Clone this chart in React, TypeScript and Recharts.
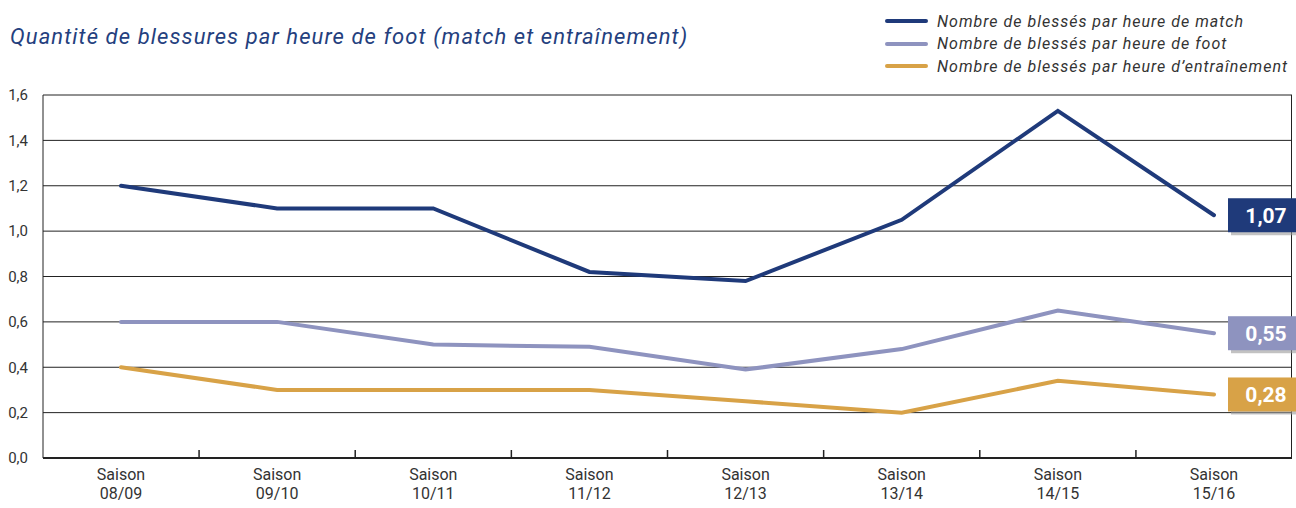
import { LineChart, Line, XAxis, YAxis, CartesianGrid, LabelList } from 'recharts';

const seasons = ['08/09', '09/10', '10/11', '11/12', '12/13', '13/14', '14/15', '15/16'];
const matchValues = [1.2, 1.1, 1.1, 0.82, 0.78, 1.05, 1.53, 1.07];
const footValues = [0.6, 0.6, 0.5, 0.49, 0.39, 0.48, 0.65, 0.55];
const trainingValues = [0.4, 0.3, 0.3, 0.3, 0.25, 0.2, 0.34, 0.28];
const yTicks = [0, 0.2, 0.4, 0.6, 0.8, 1.0, 1.2, 1.4, 1.6];

const series = [
  { key: 'match', name: 'Nombre de blessés par heure de match', color: '#1f3a7a' },
  { key: 'foot', name: 'Nombre de blessés par heure de foot', color: '#8e93bf' },
  { key: 'training', name: 'Nombre de blessés par heure d\u2019entraînement', color: '#d8a247' },
];

const data = seasons.map((s, i) => ({
  season: s,
  match: matchValues[i],
  foot: footValues[i],
  training: trainingValues[i],
}));

const FONT = 'Roboto, "DejaVu Sans", sans-serif';
const X_PAD = 78;
const fmt = (v: number) => v.toFixed(1).replace('.', ',');

function SeasonTick({ x, y, payload }: any) {
  return (
    <text x={x} y={y} textAnchor="middle" fill="#333" fontSize={16} fontFamily={FONT}>
      <tspan x={x} dy={14}>Saison</tspan>
      <tspan x={x} dy={19}>{payload.value}</tspan>
    </text>
  );
}

// boundaries between seasons: halfway between two category points
function separatorCoords({ xAxis, offset }: any) {
  let pts: number[] = [];
  const sc = xAxis?.scale;
  if (typeof sc === 'function') {
    pts = seasons.map((s) => sc(s));
  } else if (sc && typeof sc.map === 'function') {
    pts = seasons.map((s) => sc.map(s));
  } else if (offset) {
    const step = (offset.width - 2 * X_PAD) / (seasons.length - 1);
    pts = seasons.map((_, i) => offset.left + X_PAD + i * step);
  }
  if (pts.some((p) => typeof p !== 'number' || isNaN(p))) return [];
  return pts.slice(1).map((p, i) => (p + pts[i]) / 2);
}

function makeEndLabel(color: string) {
  return (props: any) => {
    const { x, y, value, index } = props;
    if (index !== seasons.length - 1) return null;
    const text = value.toFixed(2).replace('.', ',');
    return (
      <g>
        <rect x={x + 17} y={y - 14} width={72} height={34} fill="#9a9a9a" opacity={0.6} />
        <rect x={x + 14} y={y - 17} width={72} height={34} fill={color} />
        <text x={x + 52} y={y + 8} textAnchor="middle" fill="#fff" fontSize={21} fontWeight="bold" fontFamily={FONT}>
          {text}
        </text>
      </g>
    );
  };
}

export default function App() {
  return (
    <div style={{ position: 'absolute', left: 0, top: 0, width: 1296, height: 508, background: '#fff' }}>
      <div
        style={{
          position: 'absolute',
          left: 10,
          top: 24,
          fontFamily: FONT,
          fontStyle: 'italic',
          fontSize: 22,
          letterSpacing: 1.1,
          color: '#24407e',
          whiteSpace: 'nowrap',
        }}
      >
        Quantité de blessures par heure de foot (match et entraînement)
      </div>
      <div style={{ position: 'absolute', left: 885, top: 10, fontFamily: FONT }}>
        {series.map((s) => (
          <div key={s.key} style={{ display: 'flex', alignItems: 'center', height: 22.5 }}>
            <div style={{ width: 43, height: 4, borderRadius: 2, background: s.color, marginRight: 9 }} />
            <span style={{ fontStyle: 'italic', fontSize: 16, letterSpacing: 1, color: '#333', whiteSpace: 'nowrap' }}>
              {s.name}
            </span>
          </div>
        ))}
      </div>
      <LineChart width={1296} height={508} data={data} margin={{ top: 95, right: 4, left: 0, bottom: 0 }}>
        <CartesianGrid stroke="#222" vertical={true} verticalPoints={[1291.5]} />
        <CartesianGrid
          y={450}
          height={8}
          horizontal={false}
          vertical={true}
          stroke="#222"
          strokeWidth={1.5}
          verticalCoordinatesGenerator={separatorCoords}
        />
        <XAxis
          dataKey="season"
          padding={{ left: X_PAD, right: X_PAD }}
          height={50}
          axisLine={{ stroke: '#222', strokeWidth: 2 }}
          tickLine={false}
          tick={<SeasonTick />}
          interval={0}
        />
        <YAxis
          domain={[0, 1.6]}
          ticks={yTicks}
          width={43}
          axisLine={{ stroke: '#222' }}
          tickLine={false}
          tickMargin={9}
          tickFormatter={fmt}
          tick={{ fill: '#333', fontSize: 15, fontFamily: FONT }}
        />
        {series.map((s) => (
          <Line
            key={s.key}
            type="linear"
            dataKey={s.key}
            name={s.name}
            stroke={s.color}
            strokeWidth={4}
            strokeLinecap="round"
            dot={false}
            isAnimationActive={false}
          >
            <LabelList dataKey={s.key} content={makeEndLabel(s.color)} />
          </Line>
        ))}
      </LineChart>
    </div>
  );
}
